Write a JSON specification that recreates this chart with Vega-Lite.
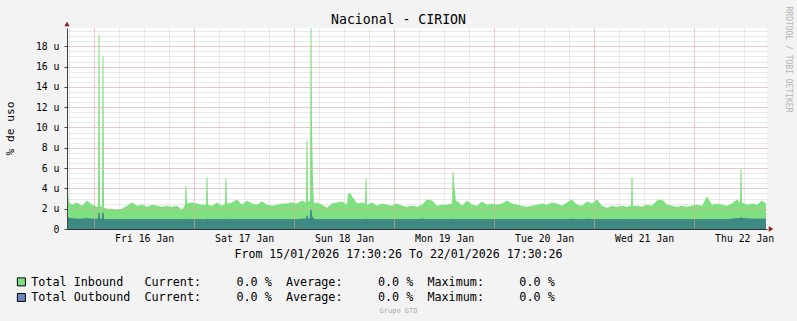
{
"$schema": "https://vega.github.io/schema/vega-lite/v6.json",
"width": 700,
"height": 201,
"autosize": "none",
"padding": {"left": 67, "top": 28, "right": 30, "bottom": 92},
"background": "#F3F3F3",
"data": {"values": [
{"t":0,"inbound":4.5,"outbound":1.2},{"t":0.48,"inbound":2.6,"outbound":1.1},{"t":1.2,"inbound":2.4,"outbound":1.05},{"t":2.4,"inbound":2.6,"outbound":1.0},{"t":3.6,"inbound":2.3,"outbound":1.0},{"t":4.8,"inbound":2.8,"outbound":1.05},{"t":6.0,"inbound":2.4,"outbound":1.0},{"t":7.2,"inbound":2.2,"outbound":1.0},{"t":7.44,"inbound":2.2,"outbound":1.0},{"t":7.56,"inbound":19.1,"outbound":1.55},{"t":7.8,"inbound":19.1,"outbound":1.55},{"t":7.92,"inbound":2.3,"outbound":1.0},{"t":8.4,"inbound":2.2,"outbound":1.0},{"t":8.52,"inbound":17.0,"outbound":1.6},{"t":8.76,"inbound":17.0,"outbound":1.6},{"t":8.88,"inbound":2.1,"outbound":0.95},{"t":9.6,"inbound":2.0,"outbound":0.95},{"t":10.8,"inbound":2.0,"outbound":0.95},{"t":12.0,"inbound":1.9,"outbound":0.95},{"t":13.2,"inbound":2.0,"outbound":0.95},{"t":14.4,"inbound":2.3,"outbound":0.95},{"t":15.6,"inbound":2.6,"outbound":0.95},{"t":16.8,"inbound":2.3,"outbound":0.95},{"t":18.0,"inbound":2.4,"outbound":0.95},{"t":19.2,"inbound":2.2,"outbound":0.95},{"t":20.4,"inbound":2.4,"outbound":0.95},{"t":21.6,"inbound":2.3,"outbound":0.95},{"t":22.8,"inbound":2.2,"outbound":0.95},{"t":24.0,"inbound":2.3,"outbound":0.95},{"t":25.2,"inbound":2.2,"outbound":0.95},{"t":26.4,"inbound":2.3,"outbound":0.95},{"t":27.6,"inbound":1.9,"outbound":0.95},{"t":28.32,"inbound":2.4,"outbound":0.95},{"t":28.44,"inbound":4.2,"outbound":1.0},{"t":28.68,"inbound":4.2,"outbound":1.0},{"t":28.8,"inbound":2.5,"outbound":0.95},{"t":30.0,"inbound":2.6,"outbound":0.95},{"t":31.2,"inbound":2.5,"outbound":0.95},{"t":32.4,"inbound":2.4,"outbound":0.95},{"t":33.36,"inbound":2.4,"outbound":0.95},{"t":33.48,"inbound":5.1,"outbound":1.0},{"t":33.72,"inbound":5.1,"outbound":1.0},{"t":33.84,"inbound":2.4,"outbound":0.95},{"t":34.8,"inbound":2.3,"outbound":0.95},{"t":36.0,"inbound":2.6,"outbound":0.95},{"t":37.2,"inbound":2.3,"outbound":0.95},{"t":37.92,"inbound":2.5,"outbound":0.95},{"t":38.04,"inbound":5.0,"outbound":1.0},{"t":38.28,"inbound":5.0,"outbound":1.0},{"t":38.4,"inbound":2.5,"outbound":0.95},{"t":39.6,"inbound":2.6,"outbound":0.95},{"t":40.8,"inbound":2.9,"outbound":0.95},{"t":42.0,"inbound":2.4,"outbound":0.95},{"t":43.2,"inbound":2.8,"outbound":0.95},{"t":44.4,"inbound":2.5,"outbound":0.95},{"t":45.6,"inbound":2.4,"outbound":0.95},{"t":46.8,"inbound":2.7,"outbound":0.95},{"t":48.0,"inbound":2.4,"outbound":0.95},{"t":49.2,"inbound":2.3,"outbound":0.95},{"t":50.4,"inbound":2.4,"outbound":0.95},{"t":51.6,"inbound":2.5,"outbound":0.95},{"t":52.8,"inbound":2.5,"outbound":0.95},{"t":54.0,"inbound":2.6,"outbound":0.95},{"t":55.2,"inbound":2.5,"outbound":0.95},{"t":56.4,"inbound":2.8,"outbound":1.0},{"t":57.36,"inbound":2.6,"outbound":1.0},{"t":57.48,"inbound":8.7,"outbound":1.3},{"t":57.72,"inbound":8.7,"outbound":1.3},{"t":57.84,"inbound":2.7,"outbound":1.0},{"t":58.32,"inbound":2.8,"outbound":1.1},{"t":58.44,"inbound":19.8,"outbound":1.9},{"t":58.68,"inbound":19.8,"outbound":1.9},{"t":58.8,"inbound":10.0,"outbound":1.3},{"t":59.04,"inbound":4.5,"outbound":1.1},{"t":59.28,"inbound":2.5,"outbound":1.0},{"t":60.0,"inbound":2.6,"outbound":0.95},{"t":61.2,"inbound":2.4,"outbound":0.95},{"t":62.4,"inbound":2.1,"outbound":0.95},{"t":63.6,"inbound":2.5,"outbound":0.95},{"t":64.8,"inbound":2.6,"outbound":0.95},{"t":66.0,"inbound":2.7,"outbound":0.95},{"t":67.2,"inbound":2.4,"outbound":0.95},{"t":67.44,"inbound":3.5,"outbound":0.95},{"t":68.16,"inbound":3.5,"outbound":0.95},{"t":68.4,"inbound":3.2,"outbound":0.95},{"t":69.6,"inbound":2.5,"outbound":0.95},{"t":70.8,"inbound":2.6,"outbound":0.95},{"t":71.52,"inbound":2.5,"outbound":0.95},{"t":71.64,"inbound":5.0,"outbound":1.0},{"t":71.88,"inbound":5.0,"outbound":1.0},{"t":72.0,"inbound":2.4,"outbound":0.95},{"t":73.2,"inbound":2.6,"outbound":0.95},{"t":74.4,"inbound":2.3,"outbound":0.95},{"t":75.6,"inbound":2.5,"outbound":0.95},{"t":76.8,"inbound":2.4,"outbound":0.95},{"t":78.0,"inbound":2.3,"outbound":0.95},{"t":79.2,"inbound":2.5,"outbound":0.95},{"t":80.4,"inbound":2.3,"outbound":0.95},{"t":81.6,"inbound":2.2,"outbound":0.95},{"t":82.8,"inbound":2.3,"outbound":0.95},{"t":84.0,"inbound":2.2,"outbound":0.95},{"t":85.2,"inbound":2.4,"outbound":1.0},{"t":86.4,"inbound":2.9,"outbound":0.95},{"t":87.6,"inbound":2.8,"outbound":0.95},{"t":88.8,"inbound":2.3,"outbound":0.95},{"t":90.0,"inbound":2.4,"outbound":0.95},{"t":91.2,"inbound":2.4,"outbound":0.95},{"t":92.4,"inbound":2.5,"outbound":0.95},{"t":92.52,"inbound":5.6,"outbound":1.0},{"t":92.76,"inbound":5.6,"outbound":1.0},{"t":92.88,"inbound":4.5,"outbound":0.95},{"t":93.12,"inbound":3.8,"outbound":0.95},{"t":93.36,"inbound":2.6,"outbound":0.95},{"t":93.6,"inbound":2.8,"outbound":0.95},{"t":94.8,"inbound":2.3,"outbound":0.95},{"t":96.0,"inbound":2.8,"outbound":0.95},{"t":97.2,"inbound":2.4,"outbound":0.95},{"t":98.4,"inbound":2.3,"outbound":0.95},{"t":99.6,"inbound":2.7,"outbound":0.95},{"t":100.8,"inbound":2.4,"outbound":0.95},{"t":102.0,"inbound":2.5,"outbound":0.95},{"t":103.2,"inbound":2.4,"outbound":0.95},{"t":104.4,"inbound":2.5,"outbound":0.95},{"t":105.6,"inbound":2.8,"outbound":0.95},{"t":106.8,"inbound":2.5,"outbound":0.95},{"t":108.0,"inbound":2.4,"outbound":0.95},{"t":109.2,"inbound":2.3,"outbound":0.95},{"t":110.4,"inbound":2.2,"outbound":0.95},{"t":111.6,"inbound":2.3,"outbound":0.95},{"t":112.8,"inbound":2.4,"outbound":0.95},{"t":114.0,"inbound":2.5,"outbound":0.95},{"t":115.2,"inbound":2.4,"outbound":0.95},{"t":116.4,"inbound":2.6,"outbound":0.95},{"t":117.6,"inbound":2.5,"outbound":0.95},{"t":118.8,"inbound":2.3,"outbound":0.95},{"t":120.0,"inbound":2.6,"outbound":0.95},{"t":121.2,"inbound":2.9,"outbound":1.0},{"t":122.4,"inbound":2.4,"outbound":0.95},{"t":123.6,"inbound":2.3,"outbound":0.95},{"t":124.8,"inbound":2.7,"outbound":1.0},{"t":126.0,"inbound":2.5,"outbound":0.95},{"t":127.2,"inbound":2.9,"outbound":0.95},{"t":128.4,"inbound":2.3,"outbound":0.95},{"t":129.6,"inbound":2.1,"outbound":0.95},{"t":130.8,"inbound":2.3,"outbound":0.95},{"t":132.0,"inbound":2.2,"outbound":0.95},{"t":133.2,"inbound":2.3,"outbound":0.95},{"t":134.4,"inbound":2.2,"outbound":0.95},{"t":135.36,"inbound":2.3,"outbound":0.95},{"t":135.48,"inbound":5.1,"outbound":1.0},{"t":135.72,"inbound":5.1,"outbound":1.0},{"t":135.84,"inbound":2.3,"outbound":0.95},{"t":136.8,"inbound":2.3,"outbound":0.95},{"t":138.0,"inbound":2.2,"outbound":0.95},{"t":139.2,"inbound":2.4,"outbound":0.95},{"t":140.4,"inbound":2.3,"outbound":0.95},{"t":141.6,"inbound":2.8,"outbound":0.95},{"t":142.8,"inbound":2.9,"outbound":0.95},{"t":144.0,"inbound":2.4,"outbound":0.95},{"t":145.2,"inbound":2.3,"outbound":0.95},{"t":146.4,"inbound":2.2,"outbound":0.95},{"t":147.6,"inbound":2.3,"outbound":0.95},{"t":148.8,"inbound":2.2,"outbound":0.95},{"t":150.0,"inbound":2.3,"outbound":0.95},{"t":151.2,"inbound":2.4,"outbound":0.95},{"t":152.4,"inbound":2.3,"outbound":0.95},{"t":153.6,"inbound":3.2,"outbound":0.95},{"t":154.8,"inbound":2.4,"outbound":0.95},{"t":156.0,"inbound":2.5,"outbound":0.95},{"t":157.2,"inbound":2.4,"outbound":0.95},{"t":158.4,"inbound":2.3,"outbound":0.95},{"t":159.6,"inbound":2.5,"outbound":1.0},{"t":160.8,"inbound":2.9,"outbound":1.05},{"t":161.52,"inbound":2.6,"outbound":1.05},{"t":161.64,"inbound":5.9,"outbound":1.15},{"t":161.88,"inbound":5.9,"outbound":1.15},{"t":162.0,"inbound":2.6,"outbound":1.05},{"t":163.2,"inbound":2.4,"outbound":1.05},{"t":164.4,"inbound":2.5,"outbound":1.0},{"t":165.6,"inbound":2.4,"outbound":1.0},{"t":166.8,"inbound":2.8,"outbound":1.0},{"t":167.76,"inbound":2.5,"outbound":1.0}
]},
"layer": [
{
"transform": [{"fold": ["inbound", "outbound"], "as": ["series", "value"]}],
"mark": {"type": "area", "interpolate": "linear"},
"encoding": {
"x": {"field": "t", "type": "quantitative", "scale": {"domain": [0, 168], "nice": false, "zero": false},
"axis": {"orient": "bottom", "values": [18.5, 42.5, 66.5, 90.5, 114.5, 138.5, 162.5], "labelExpr": "['Fri 16 Jan','Sat 17 Jan','Sun 18 Jan','Mon 19 Jan','Tue 20 Jan','Wed 21 Jan','Thu 22 Jan'][round((datum.value - 18.5) / 24)]", "grid": false, "ticks": false, "domain": true, "domainColor": "#333333", "domainWidth": 1, "labelFont": "DejaVu Sans Mono", "labelFontSize": 9.8, "labelColor": "#000000", "labelPadding": 4, "labelFlush": false, "labelOverlap": false, "title": "From 15/01/2026 17:30:26 To 22/01/2026 17:30:26", "titleFont": "DejaVu Sans Mono", "titleFontSize": 11.6, "titleFontWeight": "normal", "titleColor": "#000000", "titleX": 331, "titleY": 25, "titleAlign": "center", "titleBaseline": "middle", "zindex": 3}},
"y": {"field": "value", "type": "quantitative", "stack": null, "scale": {"domain": [0, 19.8], "nice": false},
"axis": {"orient": "left", "values": [0, 2, 4, 6, 8, 10, 12, 14, 16, 18], "labelExpr": "datum.value == 0 ? '0' : datum.value + ' u'", "grid": true, "gridColor": "#ECA8A8", "gridDash": [1, 1], "gridWidth": 1, "ticks": true, "tickSize": 3, "tickColor": "#444444", "domain": true, "domainColor": "#444444", "labelFont": "DejaVu Sans Mono", "labelFontSize": 9.8, "labelColor": "#000000", "labelPadding": 5, "title": "% de uso", "titleFont": "DejaVu Sans Mono", "titleFontSize": 11.2, "titleFontWeight": "normal", "titleColor": "#000000", "titleAngle": -90, "titleX": -57, "titleY": 100, "titleAlign": "center", "titleBaseline": "middle", "zindex": 3}},
"fill": {"field": "series", "type": "nominal", "scale": {"domain": ["inbound", "outbound"], "range": ["#7FE07F", "#6F86C0"]},
"legend": {"orient": "none", "legendX": -51.5, "legendY": 248, "direction": "vertical", "title": null, "symbolType": "square", "symbolSize": 64, "symbolOpacity": 1, "symbolStrokeColor": "#000000", "symbolStrokeWidth": 1, "labelFont": "DejaVu Sans Mono", "labelFontSize": 11.75, "labelColor": "#000000", "labelOffset": 4, "rowPadding": 1.6, "padding": 0, "labelLimit": 0,
"labelExpr": "datum.value == 'inbound' ? 'Total\u00a0Inbound\u00a0\u00a0\u00a0Current:\u00a0\u00a0\u00a0\u00a0\u00a00.0\u00a0%\u00a0\u00a0Average:\u00a0\u00a0\u00a0\u00a0\u00a00.0\u00a0%\u00a0\u00a0Maximum:\u00a0\u00a0\u00a0\u00a0\u00a00.0\u00a0%' : 'Total\u00a0Outbound\u00a0\u00a0Current:\u00a0\u00a0\u00a0\u00a0\u00a00.0\u00a0%\u00a0\u00a0Average:\u00a0\u00a0\u00a0\u00a0\u00a00.0\u00a0%\u00a0\u00a0Maximum:\u00a0\u00a0\u00a0\u00a0\u00a00.0\u00a0%'",
"encode": {"symbols": {"update": {"stroke": {"value": "#000000"}, "strokeWidth": {"value": 1}, "opacity": {"value": 1}}}}}}
}
},
{
"mark": {"type": "area", "interpolate": "linear", "color": "#3F8983"},
"encoding": {
"x": {"field": "t", "type": "quantitative", "axis": null},
"y": {"field": "outbound", "type": "quantitative", "axis": null}
}
},
{
"mark": {"type": "line", "opacity": 0},
"encoding": {
"x": {"field": "t", "type": "quantitative", "axis": {"orient": "bottom", "values": [0.49, 6.49, 12.49, 18.49, 24.49, 30.49, 36.49, 42.49, 48.49, 54.49, 60.49, 66.49, 72.49, 78.49, 84.49, 90.49, 96.49, 102.49, 108.49, 114.49, 120.49, 126.49, 132.49, 138.49, 144.49, 150.49, 156.49, 162.49], "grid": true, "gridColor": "#D2D2D2", "gridDash": [1, 1], "gridWidth": 1, "labels": false, "ticks": false, "domain": false, "title": "Grupo GTD", "titleFont": "DejaVu Sans Mono", "titleFontSize": 7, "titleFontWeight": "normal", "titleColor": "#A8A8A8", "titleX": 331, "titleY": 81, "titleAlign": "center", "titleBaseline": "middle", "zindex": 0}},
"y": {"field": "inbound", "type": "quantitative", "axis": {"orient": "right", "values": [0.5, 1, 1.5, 2, 2.5, 3, 3.5, 4, 4.5, 5, 5.5, 6, 6.5, 7, 7.5, 8, 8.5, 9, 9.5, 10, 10.5, 11, 11.5, 12, 12.5, 13, 13.5, 14, 14.5, 15, 15.5, 16, 16.5, 17, 17.5, 18, 18.5, 19, 19.5], "grid": true, "gridColor": "#D2D2D2", "gridDash": [1, 1], "gridWidth": 1, "labels": false, "ticks": false, "domain": false, "title": "RRDTOOL / TOBI OETIKER", "titleFont": "DejaVu Sans Mono", "titleFontSize": 8, "titleFontWeight": "normal", "titleColor": "#B4B4B4", "titleAngle": 90, "titleX": 20, "titleY": 31, "titleAlign": "center", "titleBaseline": "middle", "zindex": 0}}
}
},
{
"mark": {"type": "line", "opacity": 0},
"encoding": {
"x": {"field": "t", "type": "quantitative", "axis": {"orient": "bottom", "values": [6.49, 30.49, 54.49, 78.49, 102.49, 126.49, 150.49], "grid": true, "gridColor": "#ECA8A8", "gridDash": [1, 1], "gridWidth": 1, "labels": false, "ticks": false, "domain": false, "title": "Nacional - CIRION", "titleFont": "DejaVu Sans Mono", "titleFontSize": 13.2, "titleFontWeight": "normal", "titleColor": "#000000", "titleX": 331, "titleY": -209.5, "titleAlign": "center", "titleBaseline": "middle", "zindex": 2}},
"y": {"field": "inbound", "type": "quantitative", "axis": null}
}
},
{
"data": {"values": [{}]},
"mark": {"type": "point", "shape": "triangle-up", "filled": true, "size": 28, "color": "#8B1A1A", "opacity": 1},
"encoding": {
"x": {"datum": 0, "type": "quantitative", "axis": null},
"y": {"datum": 20.2, "type": "quantitative", "axis": null}
}
},
{
"data": {"values": [{}]},
"mark": {"type": "point", "shape": "triangle-right", "filled": true, "size": 28, "color": "#8B1A1A", "opacity": 1},
"encoding": {
"x": {"datum": 168.96, "type": "quantitative", "axis": null},
"y": {"datum": 0, "type": "quantitative", "axis": null}
}
}
],
"resolve": {"axis": {"x": "independent", "y": "independent"}},
"config": {"view": {"fill": "#FFFFFF", "stroke": null}, "font": "DejaVu Sans Mono"}
}
